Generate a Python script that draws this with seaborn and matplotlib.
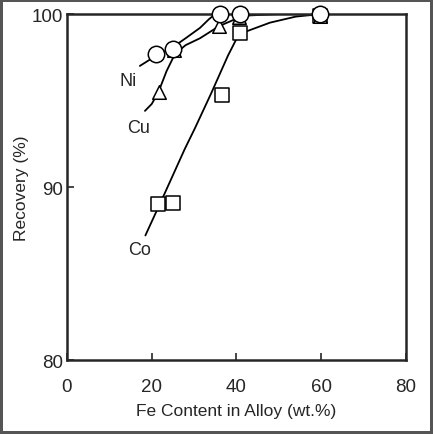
import matplotlib
matplotlib.use('Agg')
import matplotlib.pyplot as plt
import seaborn as sns
import pandas as pd

# Измеренные точки (Fe, %) -> извлечение (%)
ni_x = [21.1, 25.1, 36.0, 40.8, 59.7]
ni_y = [97.7, 98.0, 100.0, 100.0, 100.0]

cu_x = [21.6, 25.2, 35.9, 40.6, 59.7]
cu_y = [95.5, 97.9, 99.3, 99.8, 99.9]

co_x = [21.4, 25.1, 36.5, 40.8, 59.7]
co_y = [89.0, 89.1, 95.3, 98.9, 99.9]

# Сглаженные кривые
ni_curve_x = [17.2, 21.1, 25.1, 28.0, 31.4, 33.5, 35.0, 40.0, 50.0, 60.0]
ni_curve_y = [97.0, 97.6, 98.1, 98.6, 99.2, 99.7, 100.0, 100.0, 100.0, 100.0]

cu_curve_x = [18.4, 20.0, 21.6, 23.5, 25.5, 28.0, 31.4, 35.9, 41.6, 50.0, 60.0]
cu_curve_y = [94.4, 94.8, 95.5, 96.7, 97.7, 98.2, 98.6, 99.3, 99.9, 100.0, 100.0]

co_curve_x = [18.5, 23.0, 27.8, 30.2, 34.0, 38.0, 40.5, 42.4, 47.9, 54.0, 60.0]
co_curve_y = [87.2, 89.6, 92.2, 93.4, 95.4, 97.6, 98.8, 99.0, 99.5, 99.85, 100.0]

labels = {'Ni': (14.5, 96.15), 'Cu': (16.8, 93.45), 'Co': (17.05, 86.4)}

sns.set_style('ticks')
plt.rcParams['font.family'] = ['Liberation Sans', 'DejaVu Sans']

fig = plt.figure(figsize=(4.33, 4.35), dpi=100)
fig.patch.set_edgecolor('#555555')
fig.patch.set_linewidth(3)
ax = fig.add_axes([0.1547, 0.1701, 0.7829, 0.7954])

for cx, cy in [(ni_curve_x, ni_curve_y), (cu_curve_x, cu_curve_y), (co_curve_x, co_curve_y)]:
    sns.lineplot(x=cx, y=cy, ax=ax, color='black', linewidth=1.3, sort=False)

markers = [(co_x, co_y, 's', 95), (cu_x, cu_y, '^', 95), (ni_x, ni_y, 'o', 140)]
for mx, my, m, s in markers:
    df = pd.DataFrame({'x': mx, 'y': my})
    sns.scatterplot(data=df, x='x', y='y', ax=ax, marker=m, s=s,
                    facecolor='white', edgecolor='black', linewidth=1.1,
                    clip_on=False, zorder=5)

for name, (tx, ty) in labels.items():
    ax.text(tx, ty, name, fontsize=13, ha='center', va='center')

ax.set_xlim(0, 80)
ax.set_ylim(80, 100)
ax.set_xticks([0, 20, 40, 60, 80])
ax.set_yticks([80, 90, 100])
ax.tick_params(direction='in', length=5, width=1.2, labelsize=13.5)
ax.tick_params(axis='x', pad=13)
ax.tick_params(axis='y', pad=3)
for sp in ax.spines.values():
    sp.set_visible(True)
    sp.set_linewidth(1.8)
ax.set_xlabel('Fe Content in Alloy (wt.%)', fontsize=12.5)
ax.set_ylabel('Recovery (%)', fontsize=12.5)
ax.xaxis.set_label_coords(0.5, -0.147)
ax.yaxis.set_label_coords(-0.133, 0.5)
ax.xaxis.label.set_va('center')
ax.yaxis.label.set_va('center')

fig.savefig('out.png', dpi=100)
